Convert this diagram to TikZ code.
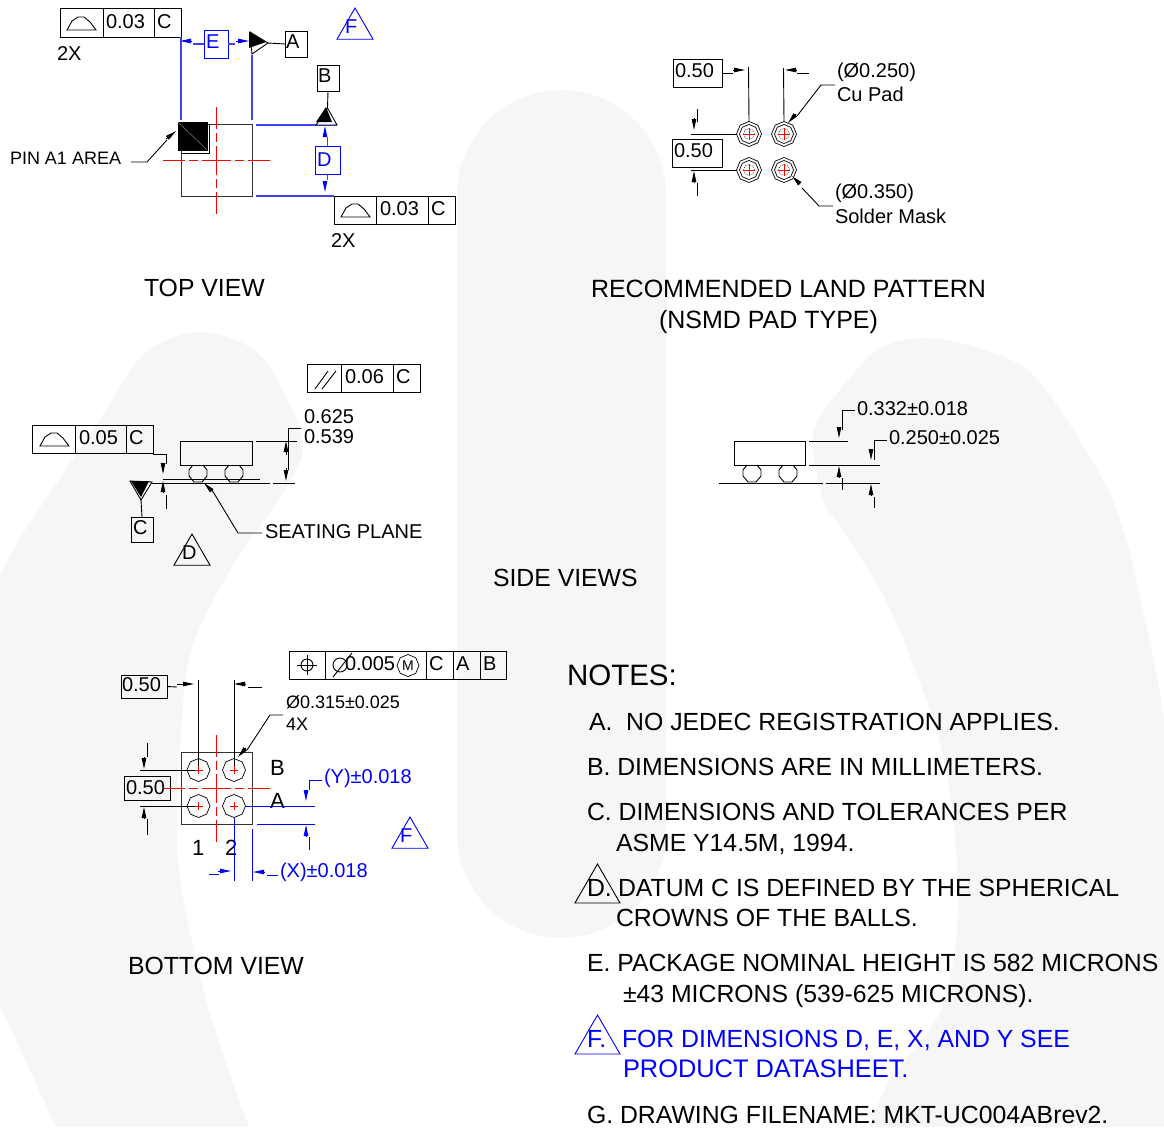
\documentclass[tikz,border=0pt]{standalone}
\usepackage{fontspec}
\setmainfont{Liberation Sans}
\usetikzlibrary{arrows.meta,shapes.geometric}

\definecolor{wmgray}{HTML}{F6F6F6}
\definecolor{dimblue}{RGB}{0,0,255}
\definecolor{leadblue}{RGB}{65,65,240}
\newcommand{\smalltext}{\fontsize{18}{20}\selectfont}
\newcommand{\dimtext}{\fontsize{20}{22}\selectfont}
\newcommand{\bigtext}{\fontsize{24.8}{28}\selectfont}
\newcommand{\widetext}{\fontsize{25}{28}\selectfont}

\tikzset{
	every path/.style={line width=0.9pt},
	cell/.style={shape=rectangle,draw=black,anchor=west,inner sep=0pt,outer sep=0pt,minimum height=28.5pt},
	tag/.style={shape=rectangle,draw=black,inner sep=0pt,outer sep=0pt},
	bluetag/.style={tag,draw=dimblue},
	txt/.style={anchor=west,inner sep=0pt,outer sep=0pt,font=\dimtext},
	flag/.style={shape=regular polygon,regular polygon sides=3,draw=black,inner sep=0pt,outer sep=0pt,minimum size=41.6pt},
	ball/.style={shape=regular polygon,regular polygon sides=8,shape border rotate=22.5,draw=black,line width=0.7pt,inner sep=0pt,outer sep=0pt},
	centerline/.style={draw=red,line width=0.8pt,dash pattern=on 22pt off 4pt on 9pt off 4pt on 29pt off 4pt on 9pt off 4pt},
	redcross/.style={draw=red,line width=0.8pt},
	tipped/.style={-{Triangle[length=11pt,width=4.5pt]}},
	bluedim/.style={draw=dimblue,fill=dimblue},
	blueline/.style={draw=leadblue,line width=1.1pt}
}

\begin{document}
\begin{tikzpicture}[x=1pt,y=-1pt]
	\useasboundingbox (0,0) rectangle (1164,1127);

	\fill[wmgray] (457,194.5) arc[start angle=180,end angle=360,radius=104.5] -- (666,833.5) arc[start angle=0,end angle=180,radius=104.5] -- cycle;
	\fill[wmgray] plot[smooth] coordinates {(0,575) (20,538) (60,478) (100,419) (143,355) (197,332) (260,355) (303,442) (277,502) (233,565) (193,645) (182,719) (178,862) (208,1006) (249,1127)} -- (56,1127) -- (0,1006) -- cycle;
	\fill[wmgray] plot[smooth] coordinates {(869,1127) (891,1078) (943,1006) (958,899) (943,755) (891,611) (839,525) (823,500) (813,433) (840,390) (880,348) (928,338) (985,350) (1039,381) (1114,503) (1151,647) (1164,719)} -- (1164,1127) -- cycle;

	\node[cell,minimum width=43pt] (topdome) at (60,23) {};
	\node[cell,minimum width=51pt] (topval) at (103,23) {};
	\node[cell,minimum width=27pt] (topref) at (154,23) {};
	\node[txt] (topvaltext) at (106,21.5) {0.03};
	\node[txt] (topreftext) at (157,21.5) {C};
	\node[txt] (topcount) at (57,53.5) {2X};
	\node[cell,minimum width=42pt] (lowdome) at (334,210.5) {};
	\node[cell,minimum width=52pt] (lowval) at (376,210.5) {};
	\node[cell,minimum width=27pt] (lowref) at (428,210.5) {};
	\node[txt] (lowvaltext) at (380,208.5) {0.03};
	\node[txt] (lowreftext) at (431,208.5) {C};
	\node[txt] (lowcount) at (331,240.5) {2X};
	\foreach \x/\y in {67/30,341/217,40/446}
		\draw (\x,\y) -- ++(29,0) -- ++(-6,-8) -- ++(-6,-5) -- ++(-6,0) -- ++(-6,4) -- cycle;

	\node[bluetag,minimum width=24pt,minimum height=28pt] (boxe) at (216,44) {};
	\node[txt,text=dimblue] (boxetext) at (206,41.5) {E};
	\node[tag,minimum width=22pt,minimum height=26pt] (boxa) at (296,44) {};
	\node[txt] (boxatext) at (286,41.5) {A};
	\node[tag,minimum width=22pt,minimum height=26pt] (boxb) at (328,78) {};
	\node[txt] (boxbtext) at (318,75.5) {B};
	\node[bluetag,minimum width=25pt,minimum height=28pt] (boxd) at (327.5,160) {};
	\node[txt,text=dimblue] (boxdtext) at (317,159.5) {D};
	\node[flag,draw=dimblue] (topflag) at (355,28.8) {};
	\node[txt,text=dimblue] (topflagtext) at (345,27) {F};

	\coordinate (datuma) at (268,43);
	\coordinate (datumb) at (327.5,108);
	\draw[blueline] (181,37) -- (181,120);
	\draw[blueline] (252,55) -- (252,120);
	\draw[blueline] (256,125) -- (337,125);
	\draw[blueline] (256,196) -- (334,196);
	\draw[bluedim,tipped] (191,41) -- (180,41);
	\draw[blueline] (193,44) -- (boxe.west);
	\draw[bluedim,tipped] (236,41) -- (249,41);
	\draw[blueline] (boxe.east) -- (235,44);
	\draw[bluedim,tipped] (325,135) -- (325,126);
	\draw[blueline] (327.5,137) -- (boxd.north);
	\draw[bluedim,tipped] (325,181) -- (325,192);
	\draw[blueline] (boxd.south) -- (327.5,180);

	\draw[fill=white] (250,32) -- (datuma) -- (252,54) -- cycle;
	\fill (249,32) -- (249,48) -- (266,42) -- cycle;
	\draw (datuma) -- (boxa.west);
	\draw[fill=white] (316,125) -- (337,125) -- (datumb) -- cycle;
	\fill (316,122) -- (332,122) -- (326,107) -- cycle;
	\draw (boxb.south) -- (datumb);

	\node[tag,draw=black!80,minimum width=71pt,minimum height=72pt] (pkgtop) at (216.5,160) {};
	\draw[fill=black] (178,122) rectangle (207,150);
	\draw[draw=gray,line width=0.5pt] (178,122) -- (207,150);
	\draw (209,124) -- (209,153) -- (181,153);
	\draw[centerline] (163,160) -- (270,160);
	\draw[centerline] (216.5,107) -- (216.5,214);
	\node[txt,font=\smalltext] (pinarea) at (10,158) {PIN A1 AREA};
	\coordinate (pinknee) at (147,162);
	\draw (131,162) -- (pinknee) -- (167,140);
	\draw[tipped] (166,139) -- (176,131);
	\node[txt,font=\bigtext] (topview) at (144,288) {TOP VIEW};

	\node[tag,minimum width=49pt,minimum height=28pt] (padx) at (697.5,73) {};
	\node[txt] (padxtext) at (675,71) {0.50};
	\node[tag,minimum width=50pt,minimum height=28pt] (pady) at (697,153) {};
	\node[txt] (padytext) at (674,151) {0.50};
	\foreach \x/\y/\n in {749/134/a,784/134/b,749/170/c,784/170/d}{
		\node[ball,minimum size=25pt] (mask\n) at (\x,\y) {};
		\node[ball,minimum size=19pt] (pad\n) at (\x,\y) {};
		\draw[densely dotted,line width=0.4pt] (\x,\y) circle (5.5);
		\draw[redcross] (\x-6,\y) -- (\x+6,\y);
		\draw[redcross] (\x,\y-6) -- (\x,\y+6);
	}
	\draw (padx.east) -- (733,73);
	\draw[tipped] (733,70) -- (745,70);
	\draw (748.5,67) -- (maska.north);
	\draw (783.5,68) -- (maskb.north);
	\draw[tipped] (796,70) -- (785,70);
	\draw (797,73) -- (809,73);
	\draw (697,109) -- (697,122);
	\draw[tipped] (694,118) -- (694,130);
	\draw (691,134) -- (maska.west);
	\draw (691,170) -- (maskc.west);
	\draw[tipped] (694,183) -- (694,171);
	\draw (697,183) -- (697,196);
	\node[txt] (cusize) at (837,72) {(Ø0.250)};
	\node[txt] (cuname) at (837,94.5) {Cu Pad};
	\node[txt] (masksize) at (835,193) {(Ø0.350)};
	\node[txt] (maskname) at (835,216.5) {Solder Mask};
	\draw (835,85) -- (821,85) -- (797,116);
	\draw[tipped] (796,114) -- (788,123);
	\draw[tipped] (800,184) -- (792,176);
	\draw (802,188) -- (819,206) -- (833,206);
	\node[txt,font=\widetext] (landone) at (591,289) {RECOMMENDED LAND PATTERN};
	\node[txt,font=\widetext] (landtwo) at (659,322) {(NSMD PAD TYPE)};

	\node[cell,minimum width=34pt] (parsym) at (307,378.5) {};
	\node[cell,minimum width=52pt] (parval) at (341,378.5) {};
	\node[cell,minimum width=27pt] (parref) at (393,378.5) {};
	\node[txt] (parvaltext) at (345,376.5) {0.06};
	\node[txt] (parreftext) at (396,376.5) {C};
	\draw (315,389) -- (328,371);
	\draw (322,389) -- (336,371);
	\node[txt] (highmax) at (304,416.5) {0.625};
	\node[txt] (highmin) at (304,436.5) {0.539};
	\node[cell,minimum width=43pt] (sidedome) at (32,439.5) {};
	\node[cell,minimum width=51pt] (sideval) at (75,439.5) {};
	\node[cell,minimum width=27pt] (sideref) at (126,439.5) {};
	\node[txt] (sidevaltext) at (79,437.5) {0.05};
	\node[txt] (sidereftext) at (129,437.5) {C};
	\draw (153,454) -- (166,454) -- (166,464);
	\draw[tipped] (163,463) -- (163,474);
	\draw[tipped] (163,492) -- (163,481);
	\draw (166,495) -- (166,509);

	\node[tag,minimum width=22pt,minimum height=25pt] (boxc) at (142,529.5) {};
	\node[txt] (boxctext) at (133,527.5) {C};
	\coordinate (datumc) at (141,500);
	\draw (130,481) -- (152,482) -- (datumc) -- cycle;
	\fill (131,481) -- (149,481) -- (141,497) -- cycle;
	\draw (datumc) -- (boxc.north);
	\draw (152,483) -- (270,483);
	\draw (273,483) -- (295,483);
	\draw (163,479) -- (260,479);

	\node[tag,minimum width=72pt,minimum height=24pt] (bodyleft) at (216,453) {};
	\node[tag,minimum width=71pt,minimum height=24pt] (bodyright) at (769.5,453) {};
	\foreach \x in {198,234,752,788}
		\draw (\x-5,465) -- ++(-4,5) -- ++(0,6) -- ++(5,6) -- ++(8,0) -- ++(5,-6) -- ++(0,-6) -- ++(-4,-5);
	\draw (256,441) -- (297,441);
	\draw (301,428) -- (288,428) -- (288,470);
	\draw[tipped] (286,455) -- (286,441);
	\draw[tipped] (286,468) -- (286,481);
	\node[txt] (seatplane) at (265,531.5) {SEATING PLANE};
	\draw[tipped] (212,491) -- (204,483);
	\draw (212,490) -- (238,533) -- (262,533);
	\node[flag] (sideflag) at (192,554.8) {};
	\node[txt] (sideflagtext) at (182,552.5) {D};

	\draw (719,483) -- (823,483);
	\draw (826,483) -- (880,483);
	\draw (809,441) -- (848,441);
	\draw (809,465) -- (880,465);
	\node[txt] (bodyhigh) at (857,409) {0.332±0.018};
	\node[txt] (ballhigh) at (889,438) {0.250±0.025};
	\draw (855,410) -- (842,410) -- (842,430);
	\draw[tipped] (839,428) -- (839,438);
	\draw[tipped] (839,478) -- (839,466);
	\draw (842,478) -- (842,490);
	\draw (887,440) -- (874,440) -- (874,460);
	\draw[tipped] (871,450) -- (871,460);
	\draw[tipped] (871,495) -- (871,484);
	\draw (874,497) -- (874,508);
	\node[txt,font=\bigtext] (sideviews) at (493,577.5) {SIDE VIEWS};

	\node[cell,minimum width=36pt] (posym) at (289,665.5) {};
	\node[cell,minimum width=101pt] (posval) at (325,665.5) {};
	\node[cell,minimum width=27pt] (posc) at (426,665.5) {};
	\node[cell,minimum width=27pt] (posa) at (453,665.5) {};
	\node[cell,minimum width=26pt] (posb) at (480,665.5) {};
	\draw (307,665) circle (6);
	\draw (297,665) -- (317,665);
	\draw (307,655) -- (307,675);
	\draw (340,665) circle (7);
	\draw (333,677) -- (352,653);
	\node[txt] (posvaltext) at (345,664) {0.005};
	\node[ball,minimum size=22pt] (posm) at (408,665.5) {};
	\node[inner sep=0pt,font=\fontsize{14}{14}\selectfont] (posmtext) at (408,666) {M};
	\node[txt] (posctext) at (429,663.5) {C};
	\node[txt] (posatext) at (456,663.5) {A};
	\node[txt] (posbtext) at (483,663.5) {B};

	\node[tag,minimum width=46pt,minimum height=23pt] (ballx) at (144,686.5) {};
	\node[txt] (ballxtext) at (122,684.5) {0.50};
	\node[tag,minimum width=46pt,minimum height=24pt] (bally) at (147,788) {};
	\node[txt] (ballytext) at (126,787.5) {0.50};
	\node[tag,draw=black!80,minimum width=71pt,minimum height=72pt] (pkgbot) at (216.5,788) {};
	\foreach \x/\y/\n in {198.5/770/a,234/770/b,198.5/806/c,234/806/d}
		\node[ball,minimum size=23pt] (solder\n) at (\x,\y) {};
	\draw[centerline] (163,788) -- (270,788);
	\draw[centerline] (216.5,735) -- (216.5,842);
	\draw (ballx.east) -- (177,687);
	\draw[tipped] (177,684) -- (194,684);
	\draw (198.5,680) -- (soldera.center);
	\draw (234,680) -- (solderb.center);
	\draw[tipped] (245,684) -- (234,684);
	\draw (248,687) -- (262,687);
	\node[txt,font=\smalltext] (ballsize) at (286,702.5) {Ø0.315±0.025};
	\node[txt,font=\smalltext] (ballcount) at (286,724) {4X};
	\draw (283,715) -- (270,715) -- (247,750);
	\draw[tipped] (246,748) -- (238,757);
	\draw (147,743) -- (147,757);
	\draw[tipped] (144,757) -- (144,769);
	\draw (140,770) -- (soldera.center);
	\draw (140,806) -- (solderc.center);
	\draw[tipped] (144,819) -- (144,807);
	\draw (147,819) -- (147,835);
	\node[txt,font=\fontsize{22}{24}\selectfont] (rowb) at (270,768) {B};
	\node[txt,font=\fontsize{22}{24}\selectfont] (rowa) at (270,801) {A};
	\node[txt,font=\fontsize{22}{24}\selectfont] (colone) at (192,847.5) {1};
	\node[txt,font=\fontsize{22}{24}\selectfont] (coltwo) at (225,847.5) {2};

	\draw[draw=dimblue] (solderd.east) -- (315,806);
	\draw[draw=dimblue] (257,824) -- (315,824);
	\draw[draw=dimblue] (solderd.south) -- (234,881);
	\draw[draw=dimblue] (252,829) -- (252,881);
	\foreach \x/\y in {198.5/770,234/770,198.5/806,234/806}{
		\draw[redcross] (\x-4,\y) -- (\x+4,\y);
		\draw[redcross] (\x,\y-4) -- (\x,\y+4);
	}
	\node[txt,text=dimblue] (sizey) at (324,778.5) {(Y)±0.018};
	\node[txt,text=dimblue] (sizex) at (280,872.5) {(X)±0.018};
	\draw[draw=dimblue] (322,780) -- (309,780) -- (309,790);
	\draw[bluedim,tipped] (306,790) -- (306,801);
	\draw[bluedim,tipped] (306,837) -- (306,825);
	\draw[draw=dimblue] (309,837) -- (309,850);
	\draw[draw=dimblue] (209,874) -- (219,874);
	\draw[bluedim,tipped] (218,871) -- (231,871);
	\draw[bluedim,tipped] (265,872) -- (253,872);
	\draw[draw=dimblue] (267,875) -- (278,875);
	\node[flag,draw=dimblue] (botflag) at (410,837.8) {};
	\node[txt,text=dimblue] (botflagtext) at (400,836) {F};
	\node[txt,font=\bigtext] (botview) at (128,966) {BOTTOM VIEW};

	\node[txt,font=\fontsize{29.5}{32}\selectfont] (notes) at (567,675) {NOTES:};
	\node[txt,font=\bigtext] (notea) at (589,722) {A.\ \ NO JEDEC REGISTRATION APPLIES.};
	\node[txt,font=\bigtext] (noteb) at (587,767) {B. DIMENSIONS ARE IN MILLIMETERS.};
	\node[txt,font=\bigtext] (notec) at (587,812) {C. DIMENSIONS AND TOLERANCES PER};
	\node[txt,font=\bigtext] (notecc) at (616,844) {ASME Y14.5M, 1994.};
	\node[txt,font=\bigtext] (noted) at (587,888) {D.};
	\node[txt,font=\bigtext] (notedd) at (618,888) {DATUM C IS DEFINED BY THE SPHERICAL};
	\node[txt,font=\bigtext] (noteddd) at (616,918) {CROWNS OF THE BALLS.};
	\node[flag,minimum size=52pt] (notedflag) at (597.5,890) {};
	\node[txt,font=\bigtext] (notee) at (587,963) {E. PACKAGE NOMINAL HEIGHT IS 582 MICRONS};
	\node[txt,font=\bigtext] (noteee) at (623,996) {±43 MICRONS (539-625 MICRONS).};
	\node[txt,font=\bigtext,text=dimblue] (notef) at (587,1039) {F.};
	\node[txt,font=\bigtext,text=dimblue] (noteff) at (622,1040) {FOR DIMENSIONS D, E, X, AND Y SEE};
	\node[txt,font=\fontsize{25.4}{28}\selectfont,text=dimblue] (notefff) at (623,1069) {PRODUCT DATASHEET.};
	\node[flag,draw=dimblue,minimum size=52pt] (notefflag) at (597.5,1041) {};
	\node[txt,font=\bigtext] (noteg) at (587,1115) {G. DRAWING FILENAME: MKT-UC004ABrev2.};
\end{tikzpicture}
\end{document}
